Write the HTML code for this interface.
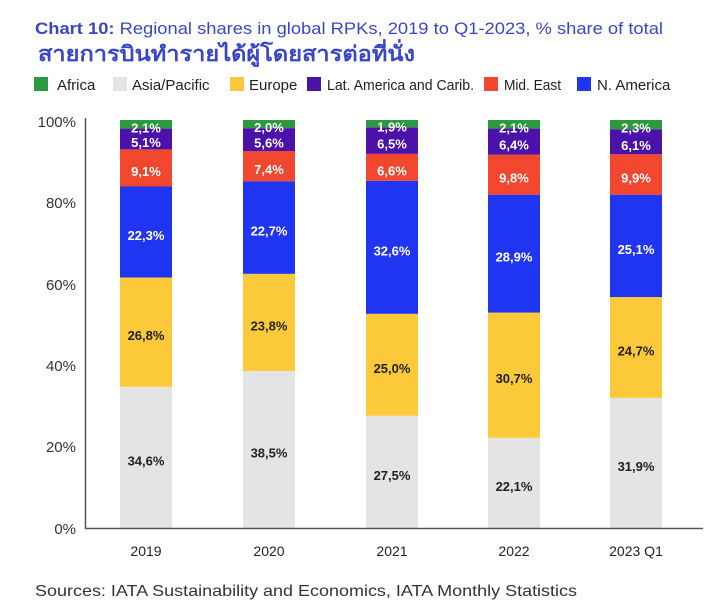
<!DOCTYPE html>
<html><head><meta charset="utf-8">
<style>
html,body{margin:0;padding:0;background:#fff;}
svg{display:block;}
text{font-family:"Liberation Sans","Noto Sans CJK SC",sans-serif;}
.th{font-family:"Liberation Sans","Noto Sans CJK SC","WenQuanYi Zen Hei",sans-serif;}
.lb{font-size:13px;font-weight:bold;text-anchor:middle;}
.w{fill:#fff;}
.d{fill:#222;}
.yt{font-size:15px;fill:#333;text-anchor:end;}
.xt{font-size:14px;fill:#222;text-anchor:middle;}
.lg{font-size:15px;fill:#222;}
</style></head>
<body>
<svg width="726" height="613" viewBox="0 0 726 613" xmlns="http://www.w3.org/2000/svg">
<rect width="726" height="613" fill="#fff"/>
<!-- Title -->
<text x="35" y="34" font-size="17" fill="#3a46c9" textLength="628" lengthAdjust="spacingAndGlyphs"><tspan font-weight="bold">Chart 10:</tspan> Regional shares in global RPKs, 2019 to Q1-2023, % share of total</text>
<text class="th" x="38" y="61" font-size="21" font-weight="bold" fill="#3a46c9" textLength="377" lengthAdjust="spacingAndGlyphs">สายการบินทำรายได้ผู้โดยสารต่อที่นั่ง</text>

<!-- Legend -->
<rect x="34" y="77" width="14" height="14" fill="#2b9a3f"/>
<text class="lg" x="57" y="90">Africa</text>
<rect x="113" y="77" width="14" height="14" fill="#e4e4e4"/>
<text class="lg" x="132" y="90">Asia/Pacific</text>
<rect x="230" y="77" width="14" height="14" fill="#fcc93b"/>
<text class="lg" x="249" y="90">Europe</text>
<rect x="307" y="77" width="14" height="14" fill="#4a12a8"/>
<text class="lg" x="327" y="90" textLength="147" lengthAdjust="spacingAndGlyphs">Lat. America and Carib.</text>
<rect x="484" y="77" width="14" height="14" fill="#f1472f"/>
<text class="lg" x="504" y="90" textLength="57" lengthAdjust="spacingAndGlyphs">Mid. East</text>
<rect x="577" y="77" width="14" height="14" fill="#1f35f2"/>
<text class="lg" x="597" y="90">N. America</text>

<!-- Y tick labels -->
<text class="yt" x="76" y="127">100%</text>
<text class="yt" x="76" y="208">80%</text>
<text class="yt" x="76" y="290">60%</text>
<text class="yt" x="76" y="371">40%</text>
<text class="yt" x="76" y="452">20%</text>
<text class="yt" x="76" y="534">0%</text>

<!-- Bar 2019 -->
<g>
<rect x="120" y="386.83" width="52" height="141.17" fill="#e4e4e4"/>
<rect x="120" y="277.49" width="52" height="109.34" fill="#fcc93b"/>
<rect x="120" y="186.5" width="52" height="90.99" fill="#1f35f2"/>
<rect x="120" y="149.38" width="52" height="37.12" fill="#f1472f"/>
<rect x="120" y="128.57" width="52" height="20.81" fill="#4a12a8"/>
<rect x="120" y="120" width="52" height="8.57" fill="#2b9a3f"/>
<text class="lb d" x="146" y="465.4">34,6%</text>
<text class="lb d" x="146" y="340.2">26,8%</text>
<text class="lb w" x="146" y="240">22,3%</text>
<text class="lb w" x="146" y="175.9">9,1%</text>
<text class="lb w" x="146" y="147">5,1%</text>
<text class="lb w" x="146" y="132.3">2,1%</text>
</g>
<!-- Bar 2020 -->
<g>
<rect x="243" y="370.92" width="52" height="157.08" fill="#e4e4e4"/>
<rect x="243" y="273.82" width="52" height="97.1" fill="#fcc93b"/>
<rect x="243" y="181.2" width="52" height="92.62" fill="#1f35f2"/>
<rect x="243" y="151.01" width="52" height="30.19" fill="#f1472f"/>
<rect x="243" y="128.16" width="52" height="22.85" fill="#4a12a8"/>
<rect x="243" y="120" width="52" height="8.16" fill="#2b9a3f"/>
<text class="lb d" x="269" y="457.5">38,5%</text>
<text class="lb d" x="269" y="330.4">23,8%</text>
<text class="lb w" x="269" y="235.5">22,7%</text>
<text class="lb w" x="269" y="174.1">7,4%</text>
<text class="lb w" x="269" y="147.6">5,6%</text>
<text class="lb w" x="269" y="132.1">2,0%</text>
</g>
<!-- Bar 2021 -->
<g>
<rect x="366" y="415.8" width="52" height="112.2" fill="#e4e4e4"/>
<rect x="366" y="313.8" width="52" height="102" fill="#fcc93b"/>
<rect x="366" y="180.79" width="52" height="133.01" fill="#1f35f2"/>
<rect x="366" y="153.86" width="52" height="26.93" fill="#f1472f"/>
<rect x="366" y="127.34" width="52" height="26.52" fill="#4a12a8"/>
<rect x="366" y="120" width="52" height="7.34" fill="#2b9a3f"/>
<text class="lb d" x="392" y="479.9">27,5%</text>
<text class="lb d" x="392" y="372.8">25,0%</text>
<text class="lb w" x="392" y="255.3">32,6%</text>
<text class="lb w" x="392" y="175.3">6,6%</text>
<text class="lb w" x="392" y="148.6">6,5%</text>
<text class="lb w" x="392" y="131.7">1,9%</text>
</g>
<!-- Bar 2022 -->
<g>
<rect x="488" y="437.83" width="52" height="90.17" fill="#e4e4e4"/>
<rect x="488" y="312.58" width="52" height="125.25" fill="#fcc93b"/>
<rect x="488" y="194.66" width="52" height="117.92" fill="#1f35f2"/>
<rect x="488" y="154.68" width="52" height="39.98" fill="#f1472f"/>
<rect x="488" y="128.57" width="52" height="26.11" fill="#4a12a8"/>
<rect x="488" y="120" width="52" height="8.57" fill="#2b9a3f"/>
<text class="lb d" x="514" y="490.9">22,1%</text>
<text class="lb d" x="514" y="383.2">30,7%</text>
<text class="lb w" x="514" y="261.6">28,9%</text>
<text class="lb w" x="514" y="182.7">9,8%</text>
<text class="lb w" x="514" y="149.6">6,4%</text>
<text class="lb w" x="514" y="132.3">2,1%</text>
</g>
<!-- Bar 2023 Q1 -->
<g>
<rect x="610" y="397.85" width="52" height="130.15" fill="#e4e4e4"/>
<rect x="610" y="297.07" width="52" height="100.78" fill="#fcc93b"/>
<rect x="610" y="194.66" width="52" height="102.41" fill="#1f35f2"/>
<rect x="610" y="154.27" width="52" height="40.39" fill="#f1472f"/>
<rect x="610" y="129.38" width="52" height="24.89" fill="#4a12a8"/>
<rect x="610" y="120" width="52" height="9.38" fill="#2b9a3f"/>
<text class="lb d" x="636" y="470.9">31,9%</text>
<text class="lb d" x="636" y="355.5">24,7%</text>
<text class="lb w" x="636" y="253.9">25,1%</text>
<text class="lb w" x="636" y="182.5">9,9%</text>
<text class="lb w" x="636" y="149.8">6,1%</text>
<text class="lb w" x="636" y="132.7">2,3%</text>
</g>

<!-- Axes -->
<line x1="85.5" y1="118" x2="85.5" y2="529" stroke="#555" stroke-width="1.5"/>
<line x1="85" y1="528.5" x2="703" y2="528.5" stroke="#555" stroke-width="1.5"/>

<!-- X labels -->
<text class="xt" x="146" y="556">2019</text>
<text class="xt" x="269" y="556">2020</text>
<text class="xt" x="392" y="556">2021</text>
<text class="xt" x="514" y="556">2022</text>
<text class="xt" x="636" y="556">2023 Q1</text>

<!-- Source -->
<text x="35" y="596" font-size="16" fill="#333" textLength="542" lengthAdjust="spacingAndGlyphs">Sources: IATA Sustainability and Economics, IATA Monthly Statistics</text>
</svg>
</body></html>
